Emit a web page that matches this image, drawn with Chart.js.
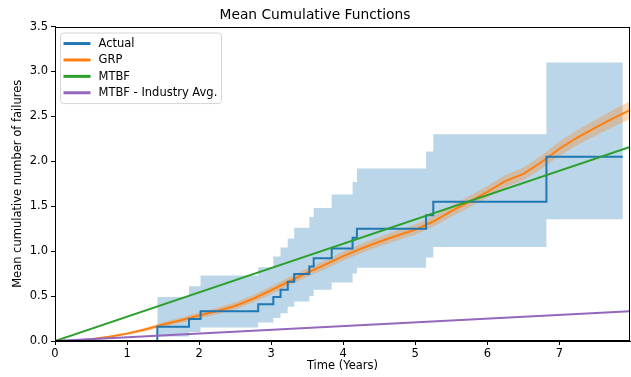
<!DOCTYPE html>
<html><head><meta charset="utf-8">
<script src="https://cdn.jsdelivr.net/npm/chart.js@4"></script>
<style>html,body{margin:0;padding:0;background:#fff}canvas{display:block}</style>
</head><body>
<canvas id="c" width="631" height="377"></canvas>
<script>
// ---- data ----
const actualT = [0, 1.42, 1.86, 2.02, 2.82, 3.03, 3.13, 3.23, 3.32, 3.53, 3.59, 3.84, 4.13, 4.19, 5.15, 5.25, 6.82, 7.88];
const actualV = [0, 0.16, 0.245, 0.33, 0.41, 0.49, 0.57, 0.66, 0.745, 0.83, 0.92, 1.03, 1.15, 1.25, 1.40, 1.55, 2.05, 2.05];
const ciT     = [1.42, 1.86, 2.02, 2.82, 3.03, 3.13, 3.23, 3.32, 3.53, 3.59, 3.84, 4.13, 4.19, 5.15, 5.25, 6.82, 7.88];
const ciUpper = [0.49, 0.61, 0.73, 0.82, 0.94, 1.04, 1.14, 1.26, 1.38, 1.48, 1.63, 1.77, 1.92, 2.11, 2.30, 3.10, 3.10];
const ciLower = [0.05, 0.10, 0.15, 0.205, 0.255, 0.31, 0.38, 0.44, 0.50, 0.57, 0.65, 0.75, 0.815, 0.93, 1.045, 1.355, 1.355];
const grpT = [0,0.25,0.5,0.75,1,1.25,1.5,1.75,2,2.25,2.5,2.75,3,3.25,3.5,3.75,4,4.25,4.5,4.75,5,5.25,5.5,5.75,6,6.25,6.5,6.75,7,7.25,7.5,7.75,7.98];
const grpV = [0,0.006,0.02,0.047,0.082,0.128,0.183,0.232,0.283,0.333,0.39,0.47,0.565,0.665,0.76,0.85,0.945,1.03,1.105,1.175,1.24,1.33,1.445,1.55,1.66,1.78,1.86,1.99,2.14,2.265,2.375,2.48,2.57];
const grpUpper = [0,0.009,0.026,0.057,0.097,0.148,0.209,0.262,0.317,0.370,0.430,0.512,0.610,0.712,0.809,0.900,0.997,1.083,1.159,1.230,1.297,1.389,1.506,1.613,1.725,1.848,1.931,2.065,2.220,2.349,2.464,2.574,2.670];
const grpLower = [0,0.003,0.014,0.037,0.067,0.108,0.157,0.202,0.249,0.296,0.350,0.428,0.520,0.618,0.711,0.800,0.893,0.977,1.051,1.120,1.183,1.271,1.384,1.487,1.595,1.712,1.789,1.915,2.060,2.181,2.286,2.386,2.470];
const mtbfT = [0, 7.98];
const mtbfV = [0, 2.16];
const indT = [0, 7.98];
const indV = [0, 0.33];
const xTicks = [0,1,2,3,4,5,6,7];
const yTicks = [0,0.5,1,1.5,2,2.5,3,3.5];
const seriesNames = ['Actual', 'GRP', 'MTBF', 'MTBF - Industry Avg.'];
const seriesColors = ['#1f77b4', '#ff7f0e', '#2ca02c', '#9467bd'];

const pts = (xs, ys) => xs.map((x, i) => ({x: x, y: ys[i]}));
const FONT = "'DejaVu Sans', sans-serif";
Chart.defaults.font.family = FONT;
Chart.defaults.color = '#000';

const legendPlugin = {
  id: 'mplLegend',
  afterDraw(chart) {
    const ctx = chart.ctx, a = chart.chartArea;
    const bx = a.left + 5.5, by = a.top + 6.5, bw = 161, bh = 70.5, r = 3;
    ctx.save();
    ctx.beginPath();
    ctx.moveTo(bx + r, by);
    ctx.arcTo(bx + bw, by, bx + bw, by + bh, r);
    ctx.arcTo(bx + bw, by + bh, bx, by + bh, r);
    ctx.arcTo(bx, by + bh, bx, by, r);
    ctx.arcTo(bx, by, bx + bw, by, r);
    ctx.closePath();
    ctx.fillStyle = 'rgba(255,255,255,0.8)';
    ctx.fill();
    ctx.strokeStyle = '#d6d6d6';
    ctx.lineWidth = 1;
    ctx.stroke();
    ctx.font = '11.5px ' + FONT;
    ctx.textBaseline = 'middle';
    ctx.fillStyle = '#000';
    seriesNames.forEach((n, i) => {
      const y = by + 10.5 + i * 16.4;
      ctx.beginPath();
      ctx.moveTo(bx + 3, y); ctx.lineTo(bx + 30, y);
      ctx.strokeStyle = seriesColors[i]; ctx.lineWidth = 3; ctx.stroke();
      ctx.fillText(n, bx + 38, y + 0.5);
    });
    ctx.restore();
  }
};
const framePlugin = {
  id: 'frame',
  afterDatasetsDraw(chart) {
    const ctx = chart.ctx, a = chart.chartArea;
    ctx.save();
    ctx.strokeStyle = '#000'; ctx.lineWidth = 1;
    ctx.strokeRect(Math.round(a.left) + 0.5, Math.round(a.top) + 0.5, Math.round(a.right - a.left) - 1, Math.round(a.bottom - a.top) - 1);
    ctx.restore();
  }
};

const lineDs = (label, data, color, w, extra) => Object.assign({
  label, data, borderColor: color, borderWidth: w, pointRadius: 0, fill: false, tension: 0
}, extra || {});

new Chart(document.getElementById('c'), {
  type: 'line',
  data: {
    datasets: [
      lineDs('MTBF - Industry Avg.', pts(indT, indV), seriesColors[3], 2),
      lineDs('MTBF', pts(mtbfT, mtbfV), seriesColors[2], 2),
      lineDs('Actual', pts(actualT, actualV), seriesColors[0], 2, {stepped: 'before'}),
      lineDs('GRP', pts(grpT, grpV), seriesColors[1], 2),
      lineDs('grpUpper', pts(grpT, grpUpper), 'rgba(0,0,0,0)', 0),
      lineDs('grpLower', pts(grpT, grpLower), 'rgba(0,0,0,0)', 0, {fill: {target: 4}, backgroundColor: 'rgba(255,127,14,0.3)'}),
      lineDs('ciUpper', pts(ciT, ciUpper), 'rgba(0,0,0,0)', 0, {stepped: 'before'}),
      lineDs('ciLower', pts(ciT, ciLower), 'rgba(0,0,0,0)', 0, {stepped: 'before', fill: {target: 6}, backgroundColor: 'rgba(31,119,180,0.3)'})
    ]
  },
  options: {
    responsive: false,
    animation: false,
    events: [],
    layout: {padding: {left: 0, right: 1, top: 0, bottom: 0}},
    plugins: {
      legend: {display: false},
      tooltip: {enabled: false},
      title: {display: true, text: 'Mean Cumulative Functions', color: '#000',
              font: {size: 13.8, weight: 'normal', family: FONT}, padding: {top: 7, bottom: 3}}
    },
    scales: {
      x: {
        type: 'linear', min: 0, max: 7.98,
        afterBuildTicks: s => { s.ticks = xTicks.map(v => ({value: v})); },
        ticks: {color: '#000', font: {size: 11.5}, padding: 2, maxRotation: 0, callback: v => String(v)},
        grid: {display: true, drawOnChartArea: false, drawTicks: true, tickLength: 4, tickColor: '#000', color: '#000'},
        border: {display: true, color: '#000', width: 1},
        title: {display: true, text: 'Time (Years)', color: '#000', font: {size: 11.5}, padding: {top: 0, bottom: 4}},
        afterFit: s => { s.height = 36; }
      },
      y: {
        type: 'linear', min: 0, max: 3.5,
        afterBuildTicks: s => { s.ticks = yTicks.map(v => ({value: v})); },
        ticks: {color: '#000', font: {size: 11.5}, padding: 3, callback: v => Number(v).toFixed(1)},
        grid: {display: true, drawOnChartArea: false, drawTicks: true, tickLength: 4, tickColor: '#000', color: '#000'},
        border: {display: true, color: '#000', width: 1},
        title: {display: true, text: 'Mean cumulative number of failures', color: '#000', font: {size: 11.5}, padding: {top: 11, bottom: 0}},
        afterFit: s => { s.width = 55; }
      }
    }
  },
  plugins: [framePlugin, legendPlugin]
});
</script>
</body></html>
